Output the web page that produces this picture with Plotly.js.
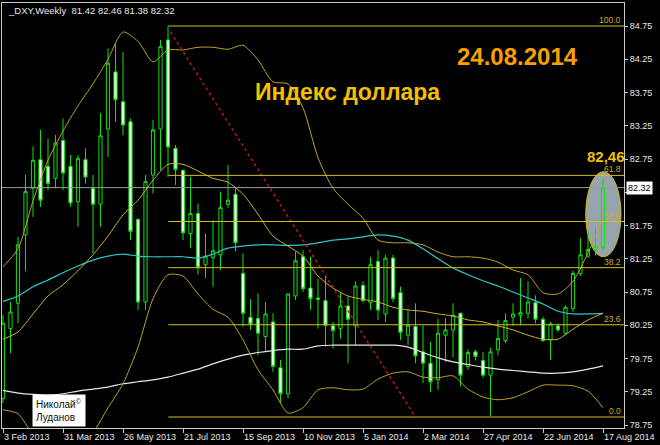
<!DOCTYPE html>
<html><head><meta charset="utf-8">
<script src="https://cdn.plot.ly/plotly-3.0.1.min.js"></script>
<style>html,body{margin:0;padding:0;background:#000;}#chart{width:660px;height:445px;}</style>
</head><body><div id="chart"></div>
<script>
// Weekly DXY candles, week 0 = 3 Feb 2013
const opens = [79.15, 80.20, 80.58, 81.61, 82.31, 82.74, 82.64, 82.46, 83.03, 82.64,
 82.11, 82.74, 82.31, 82.07, 83.20, 84.06, 83.61, 83.31, 81.84, 80.60,
 82.51, 83.20, 84.54, 82.91, 82.58, 81.63, 81.93, 81.16, 81.27, 81.31,
 82.07, 82.22, 81.03, 80.37, 80.35, 80.08, 80.30, 79.61, 79.22, 80.69,
 81.28, 80.81, 80.66, 80.62, 80.24, 80.20, 80.54, 80.24, 80.85, 80.59,
 81.21, 80.42, 81.26, 80.74, 80.10, 80.23, 79.85, 79.68, 79.43, 80.10,
 80.18, 80.43, 79.63, 79.85, 79.72, 79.50, 79.88, 80.02, 80.37, 80.40,
 80.43, 80.59, 80.34, 80.03, 80.24, 80.13, 80.50, 81.03, 81.29, 81.38,
 81.42];
const highs = [80.40, 80.60, 81.58, 82.51, 82.94, 83.19, 83.06, 83.11, 83.36, 82.81,
 82.81, 82.91, 82.51, 83.44, 84.41, 84.49, 84.36, 83.36, 81.86, 82.51,
 83.34, 84.54, 84.75, 82.96, 82.59, 82.48, 82.08, 81.63, 81.83, 82.26,
 82.66, 82.31, 81.33, 80.64, 80.73, 80.60, 80.43, 79.73, 80.73, 81.36,
 81.38, 81.28, 80.95, 81.01, 80.30, 80.75, 80.68, 80.91, 80.91, 81.28,
 81.38, 81.31, 81.31, 80.83, 80.48, 80.58, 80.25, 80.00, 80.35, 80.36,
 80.58, 80.44, 79.89, 79.88, 79.85, 79.91, 80.33, 80.43, 80.58, 80.96,
 80.91, 80.70, 80.38, 80.30, 80.28, 80.55, 81.07, 81.56, 81.68, 81.72,
 82.46];
const lows = [79.08, 79.83, 80.28, 81.06, 81.88, 82.03, 82.28, 82.31, 82.28, 82.03,
 81.73, 82.38, 81.33, 81.73, 82.78, 83.31, 83.11, 81.53, 80.48, 80.48,
 82.23, 82.58, 82.48, 82.36, 81.53, 81.41, 81.01, 80.96, 80.83, 81.08,
 82.01, 81.36, 80.23, 80.18, 79.80, 79.85, 79.55, 79.08, 79.15, 80.63,
 80.75, 80.48, 80.20, 79.93, 79.90, 80.05, 79.68, 79.95, 80.59, 80.48,
 80.33, 80.30, 80.60, 80.03, 79.95, 79.68, 79.38, 79.25, 79.28, 79.70,
 79.77, 79.33, 79.58, 79.72, 79.46, 78.89, 79.80, 79.98, 80.24, 80.25,
 80.35, 80.28, 80.00, 79.73, 80.15, 80.10, 80.45, 80.99, 81.26, 81.30,
 81.38];
const closes = [80.28, 80.45, 81.46, 82.26, 82.73, 82.13, 82.38, 82.99, 82.54, 82.09,
 82.76, 82.48, 82.07, 83.10, 84.19, 83.64, 83.26, 81.66, 80.60, 82.41,
 83.19, 84.44, 82.93, 82.59, 81.64, 81.93, 81.12, 81.29, 81.37, 82.02,
 82.13, 81.49, 80.43, 80.27, 80.13, 80.42, 79.63, 79.22, 80.72, 81.22,
 80.80, 80.65, 80.64, 80.25, 80.17, 80.54, 80.34, 80.84, 80.62, 81.16,
 80.48, 81.26, 80.65, 80.14, 80.25, 79.79, 79.68, 79.40, 80.13, 80.18,
 80.40, 79.50, 79.84, 79.78, 79.50, 79.85, 80.05, 80.32, 80.42, 80.44,
 80.60, 80.34, 80.02, 80.27, 80.18, 80.52, 81.03, 81.31, 81.39, 81.44,
 82.32];
const weeks = opens.map((_, i) => i);

// x-axis tick labels (every 8 weeks)
const tickWeeks = [0, 8, 16, 24, 32, 40, 48, 56, 64, 72, 80];
const tickText = ['3 Feb 2013', '31 Mar 2013', '26 May 2013', '21 Jul 2013', '15 Sep 2013',
  '10 Nov 2013', '5 Jan 2014', '2 Mar 2014', '27 Apr 2014', '22 Jun 2014', '17 Aug 2014'];
const priceTicks = [78.75, 79.25, 79.75, 80.25, 80.75, 81.25, 81.75, 82.25, 82.75, 83.25, 83.75, 84.25, 84.75];

// indicator lines read every 2 weeks
const lineWeeks = Array.from({length: 41}, (_, k) => 2 * k);
const upperBand = [81.13, 81.40, 82.12, 82.73, 83.17, 83.55, 83.88, 84.25, 84.66, 84.52,
 84.21, 84.39, 84.39, 84.43, 84.43, 84.40, 84.46, 84.24, 83.91, 83.88,
 83.52, 82.77, 82.31, 82.07, 81.86, 81.53, 81.49, 81.49, 81.46, 81.35,
 81.28, 81.28, 81.26, 81.20, 81.08, 81.01, 80.74, 80.72, 80.91, 81.34, 81.83];
const middleBand = [80.04, 80.15, 80.42, 80.69, 80.86, 81.07, 81.31, 81.59, 81.91, 82.13,
 82.43, 82.67, 82.67, 82.57, 82.46, 82.40, 82.22, 81.92, 81.59, 81.44,
 81.29, 80.99, 80.81, 80.69, 80.64, 80.60, 80.52, 80.48, 80.46, 80.42,
 80.39, 80.33, 80.30, 80.24, 80.18, 80.10, 80.04, 80.04, 80.19, 80.33, 80.43];
const lowerBand = [78.98, 78.92, 78.62, 78.55, 78.50, 78.55, 78.65, 79.01, 79.37, 79.92,
 80.65, 81.01, 80.99, 80.72, 80.49, 80.37, 80.03, 79.58, 79.28, 78.93,
 79.01, 79.28, 79.31, 79.28, 79.29, 79.44, 79.53, 79.55, 79.47, 79.46,
 79.49, 79.29, 79.17, 79.13, 79.16, 79.25, 79.35, 79.35, 79.34, 79.26, 79.01];
const cyanMA = [80.61, 80.69, 80.83, 80.93, 81.04, 81.14, 81.23, 81.29, 81.32, 81.29,
 81.28, 81.28, 81.28, 81.26, 81.32, 81.41, 81.44, 81.46, 81.46, 81.45,
 81.46, 81.49, 81.53, 81.55, 81.58, 81.61, 81.59, 81.53, 81.40, 81.25,
 81.11, 81.01, 80.92, 80.84, 80.75, 80.66, 80.57, 80.46, 80.42, 80.42, 80.43];
const whiteMA = [79.27, 79.23, 79.21, 79.20, 79.22, 79.26, 79.29, 79.32, 79.37, 79.40,
 79.43, 79.47, 79.53, 79.59, 79.67, 79.74, 79.80, 79.84, 79.87, 79.89,
 79.89, 79.94, 79.95, 79.95, 79.95, 79.95, 79.95, 79.92, 79.84, 79.76,
 79.70, 79.66, 79.62, 79.59, 79.57, 79.55, 79.53, 79.53, 79.55, 79.59, 79.64];

// Fibonacci retracement
const fibHigh = 84.75, fibLow = 78.87;
const fibStartWeek = 22.04, fibEndWeek = 55;
const fibRatios = [0, 23.6, 38.2, 50, 61.8, 100];

const FONT = 'Liberation Sans, Arial, sans-serif';
const n = closes.length;
const lastClose = closes[n - 1];
const XMAX = 82.8;

const traces = [
  {type: 'candlestick', x: weeks, open: opens, high: highs, low: lows, close: closes,
   increasing: {line: {color: '#10e010', width: 1}, fillcolor: 'rgba(0,0,0,0)'},
   decreasing: {line: {color: '#10e010', width: 1}, fillcolor: '#eaffea'},
   whiskerwidth: 0, hoverinfo: 'skip'},
];
function addLine(y, color, w) {
  traces.push({type: 'scatter', mode: 'lines', x: lineWeeks, y: y,
    line: {color: color, width: w || 1, shape: 'spline', smoothing: 0.7}, hoverinfo: 'skip'});
}
addLine(whiteMA, '#e6e6e6', 1.2);
addLine(cyanMA, '#2cc8c8', 1.2);
addLine(upperBand, '#bea22a', 1);
addLine(middleBand, '#cdb431', 1);
addLine(lowerBand, '#bea22a', 1);

const shapes = [
  {type: 'circle', xref: 'x', yref: 'y', x0: 77.7, x1: 82.4, y0: 81.28, y1: 82.56,
   fillcolor: '#97a4ad', line: {color: '#d8b800', width: 1}, layer: 'below'},
  {type: 'line', xref: 'paper', yref: 'y', x0: 0, x1: 1, y0: lastClose, y1: lastClose,
   line: {color: '#9a9aa6', width: 1}},
  {type: 'line', xref: 'x', yref: 'y', x0: fibStartWeek + 0.3, y0: fibHigh - 0.09, x1: fibEndWeek, y1: fibLow,
   line: {color: '#b41c1c', width: 1.5, dash: 'dot'}},
];
const annotations = [];
fibRatios.forEach(r => {
  const lvl = fibLow + (fibHigh - fibLow) * r / 100;
  shapes.push({type: 'line', xref: 'x', yref: 'y', x0: fibStartWeek, x1: XMAX, y0: lvl, y1: lvl,
    line: {color: '#d6c020', width: 1}});
  annotations.push({xref: 'paper', yref: 'y', x: 1, y: lvl, xanchor: 'right', yanchor: 'bottom',
    xshift: -1, yshift: -1, showarrow: false, text: r.toFixed(1),
    font: {family: FONT, size: 8.5, color: '#d0ac20'}});
});

const px = v => (v - 2) / 622, py = v => (428 - v) / 425;
// date labels, left-aligned at their ticks (MetaTrader style)
tickWeeks.forEach((w, k) => {
  annotations.push({xref: 'x', yref: 'paper', x: w, y: py(437), xanchor: 'left', yanchor: 'middle',
    xshift: -1, showarrow: false, text: tickText[k], font: {family: FONT, size: 9, color: '#e8e8e8'}});
});
annotations.push(
  {xref: 'paper', yref: 'paper', x: px(6), y: py(10), xanchor: 'left', yanchor: 'middle', showarrow: false,
   text: '_DXY,Weekly&nbsp; ' + [opens[n-1], highs[n-1], lows[n-1], closes[n-1]].map(v => v.toFixed(2)).join(' '),
   font: {family: FONT, size: 9.5, color: '#e8e8e8'}},
  {xref: 'paper', yref: 'paper', x: px(347), y: py(92), xanchor: 'center', yanchor: 'middle', showarrow: false,
   text: '<b>Индекс доллара</b>', font: {family: FONT, size: 23, color: '#f2c000'}},
  {xref: 'paper', yref: 'paper', x: px(517.5), y: py(56), xanchor: 'center', yanchor: 'middle', showarrow: false,
   text: '<b>24.08.2014</b>', font: {family: FONT, size: 24, color: '#f7a000'}},
  {xref: 'paper', yref: 'paper', x: px(605.5), y: py(157), xanchor: 'center', yanchor: 'middle', showarrow: false,
   text: '<b>' + highs[n - 1].toFixed(2).replace('.', ',') + '</b>', font: {family: FONT, size: 15, color: '#f0c000'}},
  {xref: 'paper', yref: 'y', x: 1, y: lastClose, xanchor: 'left', yanchor: 'middle', xshift: 2, showarrow: false,
   text: lastClose.toFixed(2), bgcolor: '#ffffff', borderpad: 1, font: {family: FONT, size: 9, color: '#000000'}},
  {xref: 'paper', yref: 'paper', x: px(32), y: py(394), xanchor: 'left', yanchor: 'top', showarrow: false, align: 'left',
   text: 'Николай<sup>©</sup><br>Луданов', bgcolor: '#ffffff', borderpad: 3,
   font: {family: FONT, size: 10, color: '#111111'}}
);

const layout = {
  width: 660, height: 445,
  margin: {l: 2, r: 36, t: 3, b: 17, pad: 0},
  paper_bgcolor: '#000000', plot_bgcolor: '#000000',
  showlegend: false, boxgap: 0.4,
  font: {family: FONT, size: 9, color: '#e8e8e8'},
  xaxis: {range: [-0.133, XMAX], rangeslider: {visible: false}, tickvals: tickWeeks, showticklabels: false,
    ticks: 'outside', ticklen: 4, tickcolor: '#c8c8c8', showgrid: false, zeroline: false,
    showline: true, linecolor: '#c8c8c8', linewidth: 1, mirror: true, fixedrange: true},
  yaxis: {side: 'right', range: [78.705, 85.096], tickvals: priceTicks,
    ticktext: priceTicks.map(v => Math.abs(v - lastClose) < 0.1 ? ' ' : v.toFixed(2)),
    ticks: 'outside', ticklen: 3, tickcolor: '#c8c8c8', showgrid: false, zeroline: false,
    showline: true, linecolor: '#c8c8c8', linewidth: 1, mirror: true,
    tickfont: {family: FONT, size: 9, color: '#e8e8e8'}, fixedrange: true},
  shapes: shapes, annotations: annotations,
};
Plotly.newPlot('chart', traces, layout, {displayModeBar: false, staticPlot: true});
</script></body></html>
